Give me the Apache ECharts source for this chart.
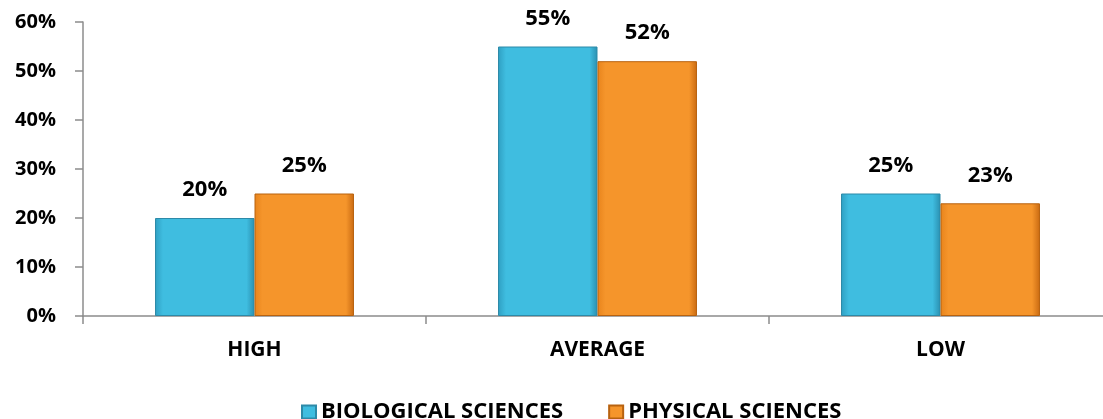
<!DOCTYPE html>
<html><head><meta charset="utf-8">
<script src="https://cdn.jsdelivr.net/npm/echarts@6/dist/echarts.min.js"></script>
<style>html,body{margin:0;padding:0;background:#fff;overflow:hidden;width:1103px;height:419px}#c{width:1112px;height:419px}</style>
</head><body><div id="c"></div>
<script>
const categories = ['HIGH', 'AVERAGE', 'LOW'];
const bioValues = [20, 55, 25];
const physValues = [25, 52, 23];
const yTicks = [0, 10, 20, 30, 40, 50, 60];
const seriesNames = ['BIOLOGICAL SCIENCES', 'PHYSICAL SCIENCES'];

const font = '"Open Sans", "Liberation Sans", sans-serif';
function grad(c1, c2, c3) {
  return new echarts.graphic.LinearGradient(0, 0, 1, 0, [
    {offset: 0, color: c1}, {offset: 0.08, color: c2}, {offset: 0.92, color: c2}, {offset: 1, color: c3}
  ]);
}
const chart = echarts.init(document.getElementById('c'));
chart.setOption({
  animation: false,
  grid: {left: 83, top: 22, right: 0, bottom: 103, containLabel: false},
  legend: {
    top: 396, left: 296, itemWidth: 14, itemHeight: 13, itemGap: 45,
    icon: 'rect',
    textStyle: {fontFamily: font, fontWeight: 'bold', fontSize: 22, color: '#000'},
    data: seriesNames
  },
  xAxis: {
    type: 'category', data: categories,
    axisLine: {lineStyle: {color: '#8c8c8c', width: 1.5}},
    axisTick: {show: true, length: 8, alignWithLabel: false, lineStyle: {color: '#8c8c8c', width: 1.5}},
    axisLabel: {fontFamily: font, fontWeight: 'bold', fontSize: 21, color: '#000', margin: 24}
  },
  yAxis: {
    type: 'value', min: 0, max: 60, interval: 10,
    splitLine: {show: false},
    axisLine: {show: true, lineStyle: {color: '#8c8c8c', width: 1.5}},
    axisTick: {show: true, length: 8, lineStyle: {color: '#8c8c8c', width: 1.5}},
    axisLabel: {fontFamily: font, fontWeight: 'bold', fontSize: 20, color: '#000', margin: 27,
      formatter: v => yTicks.includes(v) ? v + '%' : ''}
  },
  series: [
    {
      name: seriesNames[0], type: 'bar', data: bioValues, barGap: '0%', barCategoryGap: '42%',
      itemStyle: {color: grad('#2f9fc2', '#3fbde0', '#2a8fb0'), borderColor: '#2d8aa8', borderWidth: 1},
      label: {show: true, position: 'top', distance: 17, formatter: '{c}%',
        fontFamily: font, fontWeight: 'bold', fontSize: 22, color: '#000'}
    },
    {
      name: seriesNames[1], type: 'bar', data: physValues,
      itemStyle: {color: grad('#e8841c', '#f5952b', '#c96a12'), borderColor: '#b8620f', borderWidth: 1},
      label: {show: true, position: 'top', distance: 17, formatter: '{c}%',
        fontFamily: font, fontWeight: 'bold', fontSize: 22, color: '#000'}
    }
  ]
});
</script></body></html>
